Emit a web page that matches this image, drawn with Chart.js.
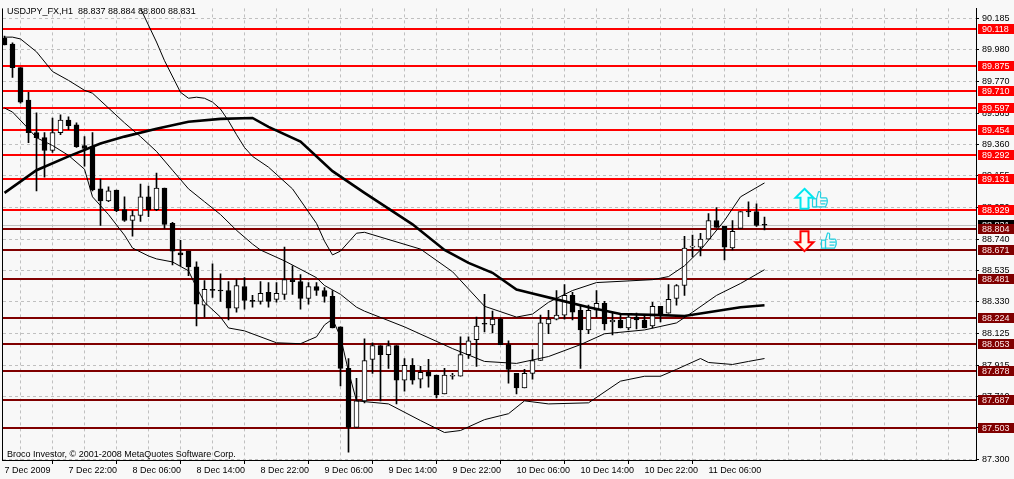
<!DOCTYPE html>
<html>
<head>
<meta charset="utf-8">
<title>USDJPY_FX,H1</title>
<script src="https://cdn.jsdelivr.net/npm/chart.js@4.4.1/dist/chart.umd.min.js"></script>
<style>
  html, body { margin: 0; padding: 0; background: #f8f8f8; }
  #wrap { width: 1014px; height: 479px; }
</style>
</head>
<body>
<div id="wrap"><canvas id="chart" width="1014" height="479"></canvas></div>
<script>
// H1 bars, first bar = 7 Dec 2009 14:00, a time label every 8 bars
const timeLabels = ['7 Dec 2009', '7 Dec 22:00', '8 Dec 06:00', '8 Dec 14:00', '8 Dec 22:00', '9 Dec 06:00',
  '9 Dec 14:00', '9 Dec 22:00', '10 Dec 06:00', '10 Dec 14:00', '10 Dec 22:00', '11 Dec 06:00'];

const opens = [90.056, 90.017, 89.862, 89.650, 89.437, 89.404, 89.320, 89.437, 89.520, 89.488,
  89.353, 89.346, 89.069, 88.991, 89.062, 88.933, 88.862, 88.895, 89.017, 88.933,
  89.075, 88.843, 88.650, 88.662, 88.559, 88.308, 88.411, 88.404, 88.404, 88.288,
  88.430, 88.340, 88.333, 88.392, 88.346, 88.379, 88.475, 88.462, 88.353, 88.430,
  88.404, 88.366, 88.166, 87.895, 87.508, 87.682, 87.953, 88.043, 87.985, 88.043,
  87.817, 87.914, 87.824, 87.869, 87.850, 87.727, 87.843, 87.843, 87.985, 88.082,
  88.185, 88.179, 88.217, 88.050, 87.862, 87.766, 87.862, 87.946, 88.185, 88.217,
  88.243, 88.372, 88.275, 88.146, 88.275, 88.320, 88.198, 88.211, 88.159, 88.230,
  88.211, 88.172, 88.301, 88.256, 88.353, 88.437, 88.688, 88.688, 88.740, 88.862,
  88.824, 88.682, 88.811, 88.920, 88.920, 88.837];
const highs = [90.069, 90.024, 89.862, 89.701, 89.566, 89.437, 89.533, 89.553, 89.540, 89.501,
  89.411, 89.437, 89.133, 89.082, 89.062, 89.017, 88.927, 89.101, 89.088, 89.172,
  89.075, 88.850, 88.733, 88.662, 88.591, 88.469, 88.579, 88.514, 88.462, 88.475,
  88.488, 88.372, 88.462, 88.456, 88.456, 88.688, 88.566, 88.508, 88.456, 88.456,
  88.424, 88.404, 88.166, 87.959, 87.830, 88.088, 88.062, 88.043, 88.075, 88.043,
  87.959, 87.959, 87.908, 87.953, 87.850, 87.895, 87.862, 88.101, 88.101, 88.230,
  88.379, 88.269, 88.224, 88.075, 87.862, 87.888, 88.017, 88.243, 88.275, 88.404,
  88.443, 88.392, 88.308, 88.308, 88.404, 88.333, 88.262, 88.243, 88.250, 88.256,
  88.243, 88.327, 88.301, 88.443, 88.443, 88.759, 88.766, 88.779, 88.908, 88.946,
  88.824, 88.862, 88.920, 88.985, 88.972, 88.884];
const lows = [90.011, 89.798, 89.630, 89.372, 89.056, 89.146, 89.308, 89.424, 89.456, 89.340,
  89.217, 89.056, 88.830, 88.985, 88.920, 88.856, 88.759, 88.856, 88.888, 88.927,
  88.811, 88.572, 88.566, 88.501, 88.172, 88.230, 88.359, 88.333, 88.211, 88.262,
  88.282, 88.295, 88.314, 88.295, 88.327, 88.346, 88.379, 88.282, 88.314, 88.372,
  88.327, 88.159, 87.779, 87.346, 87.508, 87.669, 87.862, 87.682, 87.895, 87.662,
  87.746, 87.792, 87.766, 87.772, 87.701, 87.727, 87.824, 87.843, 87.959, 87.908,
  88.133, 88.127, 88.050, 87.798, 87.727, 87.766, 87.824, 87.946, 88.121, 88.211,
  88.217, 88.211, 87.895, 88.121, 88.230, 88.146, 88.114, 88.159, 88.146, 88.153,
  88.159, 88.159, 88.198, 88.256, 88.308, 88.372, 88.624, 88.630, 88.740, 88.817,
  88.604, 88.669, 88.811, 88.888, 88.824, 88.800];
const closes = [90.011, 89.862, 89.637, 89.437, 89.404, 89.320, 89.437, 89.520, 89.482, 89.346,
  89.333, 89.062, 88.991, 89.056, 88.927, 88.862, 88.895, 89.017, 88.933, 89.075,
  88.837, 88.662, 88.637, 88.559, 88.314, 88.411, 88.404, 88.401, 88.288, 88.437,
  88.340, 88.333, 88.385, 88.333, 88.385, 88.475, 88.462, 88.353, 88.430, 88.404,
  88.366, 88.159, 87.895, 87.508, 87.682, 87.946, 88.043, 87.985, 88.043, 87.817,
  87.914, 87.817, 87.869, 87.843, 87.721, 87.850, 87.845, 87.985, 88.075, 88.172,
  88.183, 88.217, 88.050, 87.888, 87.766, 87.862, 87.946, 88.192, 88.217, 88.243,
  88.372, 88.262, 88.146, 88.275, 88.320, 88.185, 88.211, 88.159, 88.230, 88.211,
  88.159, 88.301, 88.243, 88.346, 88.437, 88.682, 88.690, 88.740, 88.862, 88.817,
  88.688, 88.791, 88.920, 88.918, 88.830, 88.831];

// indicator lines as [bar, price]
const bbUpper = [[16, 90.372], [17, 90.250], [19, 90.030], [20, 89.908], [22, 89.701], [23, 89.662],
  [24, 89.669], [25, 89.662], [26, 89.637], [27, 89.591], [28, 89.514], [29, 89.424], [30, 89.340],
  [31, 89.282], [33, 89.211], [36, 89.069], [39, 88.843], [40, 88.727], [41, 88.637], [42, 88.662],
  [44, 88.779], [45, 88.785], [52, 88.675], [56, 88.527], [60, 88.301], [64, 88.230], [66, 88.250],
  [68, 88.327], [71, 88.404], [74, 88.456], [81, 88.475], [83, 88.495], [85, 88.566], [87, 88.669],
  [90, 88.862], [92, 89.017], [95, 89.108]];
const bbMiddle = [[0, 90.062], [1, 90.062], [2, 90.050], [4, 89.966], [6, 89.837], [8, 89.779],
  [10, 89.714], [11, 89.695], [13, 89.598], [15, 89.501], [17, 89.411], [19, 89.314], [21, 89.191],
  [23, 89.069], [25, 88.985], [27, 88.901], [29, 88.798], [31, 88.708], [32, 88.669], [35, 88.598],
  [39, 88.488], [40, 88.437], [42, 88.379], [44, 88.295], [45, 88.269], [50, 88.166], [56, 88.024],
  [60, 87.940], [64, 87.927], [68, 87.972], [72, 88.050], [75, 88.121], [80, 88.146], [84, 88.192],
  [86, 88.262], [89, 88.372], [92, 88.450], [95, 88.540]];
const bbLower = [[0, 89.598], [1, 89.572], [3, 89.462], [4, 89.404], [6, 89.353], [8, 89.288],
  [10, 89.198], [11, 89.017], [13, 88.901], [15, 88.766], [16, 88.682], [18, 88.630], [19, 88.611],
  [21, 88.591], [23, 88.533], [24, 88.424], [25, 88.327], [27, 88.230], [28, 88.159], [30, 88.140],
  [34, 88.062], [37, 88.056], [39, 88.101], [40, 88.179], [41, 88.217], [42, 88.101], [43, 87.875],
  [44, 87.682], [48, 87.662], [52, 87.553], [55, 87.475], [57, 87.488], [60, 87.559], [63, 87.598],
  [65, 87.682], [68, 87.662], [73, 87.669], [77, 87.811], [80, 87.843], [82, 87.843], [84, 87.888],
  [87, 87.959], [88, 87.933], [91, 87.920], [93, 87.940], [95, 87.959]];
const maSlow = [[0, 89.043], [4, 89.191], [8, 89.282], [12, 89.366], [15, 89.411], [19, 89.462],
  [23, 89.508], [27, 89.527], [31, 89.533], [33, 89.475], [37, 89.379], [41, 89.185], [45, 89.043],
  [51, 88.837], [55, 88.669], [58, 88.585], [61, 88.520], [64, 88.411], [66, 88.385], [69, 88.346],
  [73, 88.295], [77, 88.250], [82, 88.243], [85, 88.237], [88, 88.262], [92, 88.295], [95, 88.308]];

// horizontal levels drawn on the chart
const upperLevels = [90.118, 89.875, 89.710, 89.597, 89.454, 89.292, 89.131, 88.929];
const lowerLevels = [88.804, 88.671, 88.481, 88.224, 88.053, 87.878, 87.687, 87.503];
const bidPrice = 88.831;

// buy / sell marks to the right of the last bar
const signalBar = 100;
const buyMark = 89.004;
const sellMark = 88.727;

const priceTicks = [90.185, 89.980, 89.770, 89.565, 89.360, 89.155, 88.950, 88.740, 88.535,
  88.330, 88.125, 87.915, 87.710, 87.505, 87.300];
const gridBars = [];
for (let b = 0; b <= 120; b += 4) gridBars.push(b);

const FONT = '"Liberation Sans", Arial, sans-serif';
const last = opens.length - 1;
const titleText = 'USDJPY_FX,H1  ' + opens[last].toFixed(3) + ' ' + highs[last].toFixed(3) + ' ' +
  lows[last].toFixed(3) + ' ' + closes[last].toFixed(3);

const toPoints = arr => arr.map(p => ({x: p[0], y: p[1]}));
const bodyData = opens.map((o, i) => ({x: i, y: [o, closes[i]]}));
const wickData = opens.map((o, i) => ({x: i, y: [lows[i], highs[i]]}));

function drawArrow(ctx, cx, cy, dir, stroke, fill) {
  const pts = [[0, -10], [9, -1], [4, -1], [4, 10], [-4, 10], [-4, -1], [-9, -1]];
  ctx.beginPath();
  pts.forEach(([dx, dy], i) => {
    const px = cx + dx, py = cy + dy * dir;
    if (i) ctx.lineTo(px, py); else ctx.moveTo(px, py);
  });
  ctx.closePath();
  ctx.fillStyle = fill;
  ctx.fill();
  ctx.lineWidth = 2;
  ctx.strokeStyle = stroke;
  ctx.stroke();
}

function drawThumb(ctx, cx, cy) {
  ctx.strokeStyle = '#20d0e0';
  ctx.lineWidth = 1.2;
  ctx.beginPath();
  // thumb
  ctx.moveTo(cx - 3, cy - 1);
  ctx.lineTo(cx - 1, cy - 8);
  ctx.quadraticCurveTo(cx + 2, cy - 9, cx + 1, cy - 4);
  ctx.lineTo(cx + 1, cy - 2);
  // fingers
  ctx.moveTo(cx + 1, cy - 2);
  ctx.lineTo(cx + 7, cy - 2);
  ctx.moveTo(cx + 1, cy + 1);
  ctx.lineTo(cx + 7, cy + 1);
  ctx.moveTo(cx + 1, cy + 4);
  ctx.lineTo(cx + 6, cy + 4);
  ctx.moveTo(cx + 7, cy - 2);
  ctx.quadraticCurveTo(cx + 9, cy + 2, cx + 6, cy + 7);
  ctx.lineTo(cx - 3, cy + 7);
  ctx.lineTo(cx - 3, cy - 1);
  ctx.stroke();
  // cuff
  ctx.strokeRect(cx - 7, cy - 1, 4, 8);
}

const mtOverlay = {
  id: 'mtOverlay',
  beforeDraw(chart) {
    const {ctx, width, height} = chart;
    ctx.save();
    ctx.fillStyle = '#f8f8f8';
    ctx.fillRect(0, 0, width, height);
    ctx.restore();
  },
  beforeDatasetsDraw(chart) {
    const {ctx, chartArea: a, scales: {y}} = chart;
    ctx.save();
    const by = Math.round(y.getPixelForValue(bidPrice));
    ctx.fillStyle = '#c0c0c0';
    ctx.fillRect(a.left, by, a.right - a.left, 1);
    upperLevels.concat(lowerLevels).forEach((v, i) => {
      const py = Math.round(y.getPixelForValue(v));
      ctx.fillStyle = i < upperLevels.length ? '#ff0000' : '#800000';
      ctx.fillRect(a.left, py - 1, a.right - a.left, 2);
    });
    ctx.restore();
  },
  afterDraw(chart) {
    const {ctx, chartArea: a, scales: {x, y}} = chart;
    ctx.save();
    // left frame line
    ctx.fillStyle = '#000';
    ctx.fillRect(a.left - 1, a.top, 1, a.bottom - a.top + 1);

    ctx.font = '9px ' + FONT;
    ctx.textBaseline = 'alphabetic';
    ctx.textAlign = 'left';
    ctx.fillStyle = '#000';
    ctx.fillText(titleText, 7, 14);
    ctx.fillText('Broco Investor, \u00a9 2001-2008 MetaQuotes Software Corp.', 7, 457);

    // signal marks
    const sx = x.getPixelForValue(signalBar);
    const uy = y.getPixelForValue(buyMark);
    const dy = y.getPixelForValue(sellMark);
    drawArrow(ctx, sx, uy, 1, '#00e8f0', '#f0ffff');
    drawThumb(ctx, sx + 15, uy + 1);
    drawArrow(ctx, sx, dy, -1, '#ff0000', '#fff8f0');
    drawThumb(ctx, sx + 24, dy);

    // price tags on the right scale
    const tag = (v, bg, fg) => {
      const py = Math.round(y.getPixelForValue(v));
      ctx.fillStyle = bg;
      ctx.fillRect(a.right + 2, py - 5, 36, 10);
      ctx.fillStyle = fg;
      ctx.textBaseline = 'middle';
      ctx.fillText(v.toFixed(3), a.right + 6, py + 0.5);
    };
    tag(bidPrice, '#000000', '#ffffff');
    upperLevels.forEach(v => tag(v, '#ff0000', '#ffffff'));
    lowerLevels.forEach(v => tag(v, '#800000', '#ffe8e8'));
    ctx.restore();
  }
};

Chart.defaults.font.family = FONT;
Chart.defaults.font.size = 9;
Chart.defaults.color = '#000';

new Chart(document.getElementById('chart'), {
  type: 'bar',
  data: {
    datasets: [
      {type: 'line', data: toPoints(bbUpper), borderColor: '#000', borderWidth: 1, pointRadius: 0, order: 0},
      {type: 'line', data: toPoints(bbMiddle), borderColor: '#000', borderWidth: 1, pointRadius: 0, order: 0},
      {type: 'line', data: toPoints(bbLower), borderColor: '#000', borderWidth: 1, pointRadius: 0, order: 0},
      {type: 'line', data: toPoints(maSlow), borderColor: '#000', borderWidth: 2.6, pointRadius: 0, order: 0},
      {
        data: bodyData,
        backgroundColor: c => closes[c.dataIndex] >= opens[c.dataIndex] ? '#ffffff' : '#000000',
        borderColor: '#000',
        borderWidth: 1,
        borderSkipped: false,
        barThickness: 5,
        minBarLength: 1,
        grouped: false,
        order: 1
      },
      {
        data: wickData,
        backgroundColor: '#000',
        borderWidth: 0,
        barThickness: 1,
        grouped: false,
        order: 2
      }
    ]
  },
  options: {
    responsive: false,
    animation: false,
    devicePixelRatio: 1,
    layout: {padding: {left: 3, top: 2, right: 0, bottom: 0}},
    plugins: {legend: {display: false}, tooltip: {enabled: false}},
    scales: {
      x: {
        type: 'linear',
        min: -0.1875,
        max: 121.4375,
        offset: false,
        afterBuildTicks: s => { s.ticks = gridBars.map(v => ({value: v})); },
        afterFit: s => { s.height = 19; },
        grid: {
          color: '#c0c0c0',
          borderDash: [3, 3],
          tickLength: 4,
          tickColor: c => (c.tick && c.tick.value % 8 === 0 && c.tick.value / 8 < timeLabels.length) ? '#000' : 'rgba(0,0,0,0)'
        },
        border: {display: true, color: '#000', dash: [3, 3]},
        ticks: {
          autoSkip: false,
          maxRotation: 0,
          align: 'start',
          padding: 1,
          color: '#000',
          callback: v => (v % 8 === 0 && v / 8 < timeLabels.length) ? timeLabels[v / 8] : ''
        }
      },
      y: {
        type: 'linear',
        position: 'right',
        min: 87.295,
        max: 90.25,
        afterBuildTicks: s => { s.ticks = priceTicks.map(v => ({value: v})); },
        afterFit: s => { s.width = 38; },
        grid: {color: '#c0c0c0', borderDash: [3, 3], tickLength: 3, tickColor: '#000'},
        border: {display: true, color: '#000', dash: [3, 3]},
        ticks: {padding: 3, color: '#000', callback: v => v.toFixed(3)}
      }
    }
  },
  plugins: [mtOverlay]
});
</script>
</body>
</html>
